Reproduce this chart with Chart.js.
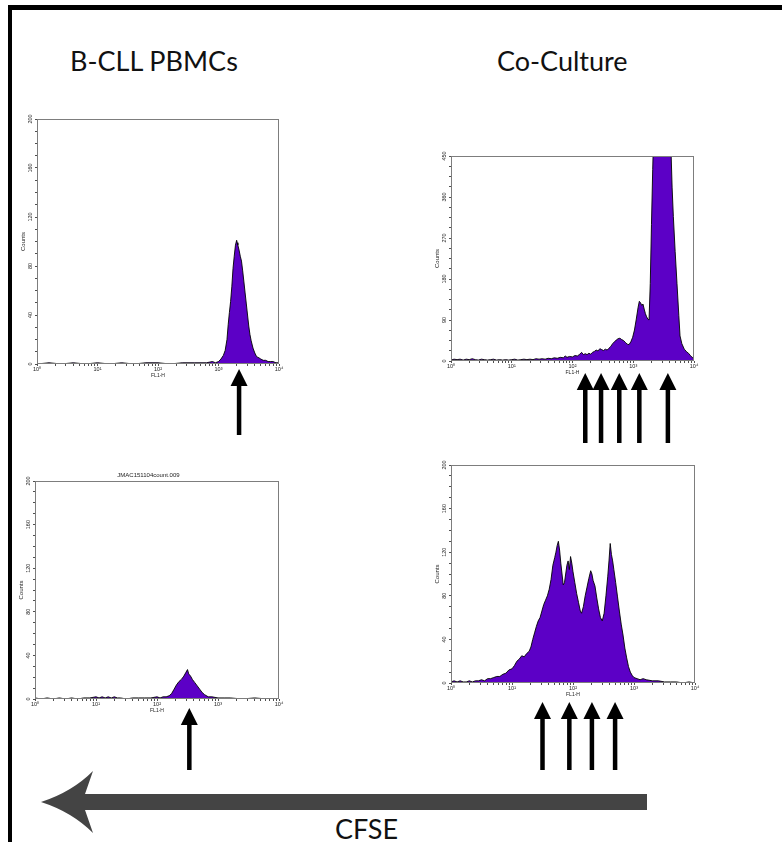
<!DOCTYPE html>
<html>
<head>
<meta charset="utf-8">
<script src="https://cdn.jsdelivr.net/npm/chart.js@4.4.1/dist/chart.umd.min.js"></script>
<style>
  body { margin: 0; background: #fff; }
  #page { position: relative; width: 782px; height: 842px; overflow: hidden; background: #fff; }
  #frame { position: absolute; left: 8px; top: 5px; width: 800px; height: 900px;
           border-top: 5px solid #000; border-left: 4px solid #000; }
  .head { position: absolute; font-family: Lato, "Open Sans", sans-serif; font-size: 27px;
          color: #111; white-space: nowrap; line-height: 1; }
  canvas { position: absolute; }
</style>
</head>
<body>
<div id="page">
  <div id="frame"></div>
  <div class="head" style="left:70px; top:47px">B-CLL PBMCs</div>
  <div class="head" style="left:497px; top:47px">Co-Culture</div>
  <svg width="782" height="842" style="position:absolute;left:0;top:0">
    <path d="M41 802 Q72 792 93 771 L85 794 L647 794 L647 810 L85 810 L93 833 Q72 812 41 802 Z" fill="#444"/>
  </svg>
  <div class="head" style="left:335px; top:815px">CFSE</div>
</div>

<script>
// x positions are log10(FL1-H), y values are event counts
const xTickLabels = ['10⁰', '10¹', '10²', '10³', '10⁴'];
const yLabels200 = [0, 40, 80, 120, 160, 200];
const yLabels450 = [0, 90, 180, 270, 360, 450];

// B-CLL PBMCs, top
const p1Log = [
  0, 0.2, 0.4, 0.6, 0.8, 1.0, 1.2, 1.4, 1.6, 1.8,
  2.0, 2.2, 2.4, 2.6, 2.8, 2.9, 2.95, 3.0, 3.04, 3.08,
  3.11, 3.14, 3.16, 3.18, 3.2, 3.22, 3.24, 3.26, 3.28, 3.3,
  3.31, 3.32, 3.34, 3.36, 3.38, 3.4, 3.42, 3.44, 3.46, 3.48,
  3.5, 3.52, 3.54, 3.57, 3.6, 3.63, 3.67, 3.7, 3.74, 3.78,
  3.82, 3.86, 3.9, 3.95, 4.0
];
const p1Counts = [
  0, 1, 0, 1, 0, 1, 0, 1, 0, 1,
  1, 0, 1, 1, 1, 2, 1, 2, 4, 7,
  11, 20, 32, 42, 51, 63, 78, 88, 97, 101,
  99, 97, 93, 88, 84, 76, 67, 58, 49, 40,
  31, 24, 19, 13, 9, 6, 5, 4, 3, 3,
  2, 2, 2, 1, 1
];
const p1Arrows = [3.34];

// Co-Culture, top
const p2Log = [
  0, 0.05, 0.1, 0.15, 0.2, 0.25, 0.3, 0.35, 0.4, 0.45,
  0.5, 0.55, 0.6, 0.65, 0.7, 0.75, 0.8, 0.85, 0.9, 0.95,
  1.0, 1.05, 1.1, 1.15, 1.2, 1.25, 1.3, 1.35, 1.4, 1.45,
  1.5, 1.55, 1.6, 1.65, 1.7, 1.75, 1.8, 1.85, 1.88, 1.91,
  1.95, 2.0, 2.04, 2.08, 2.12, 2.15, 2.18, 2.21, 2.24, 2.27,
  2.3, 2.33, 2.36, 2.39, 2.42, 2.45, 2.48, 2.51, 2.54, 2.57,
  2.6, 2.63, 2.66, 2.69, 2.72, 2.75, 2.78, 2.81, 2.84, 2.87,
  2.9, 2.93, 2.96, 2.99, 3.02, 3.05, 3.08, 3.1, 3.12, 3.14,
  3.16, 3.18, 3.2, 3.22, 3.24, 3.26, 3.28, 3.3, 3.32, 3.34,
  3.4, 3.5, 3.58, 3.62, 3.64, 3.66, 3.69, 3.72, 3.75, 3.77,
  3.8, 3.84, 3.88, 3.91, 3.94, 3.97, 3.99, 4.0
];
const p2Counts = [
  2, 4, 3, 4, 2, 4, 3, 5, 3, 2,
  4, 3, 2, 3, 4, 2, 3, 2, 3, 2,
  3, 4, 2, 3, 4, 3, 4, 3, 5, 4,
  5, 4, 6, 5, 7, 6, 8, 7, 11, 8,
  10, 9, 12, 11, 15, 19, 14, 16, 14, 17,
  15, 19, 21, 24, 22, 27, 25, 23, 26, 24,
  28, 32, 38, 42, 46, 49, 50, 47, 45, 41,
  37, 36, 42, 52, 68, 92, 118, 131, 128, 122,
  125, 114, 104, 97, 92, 90, 170, 300, 420, 520,
  640, 700, 600, 470, 380, 317, 240, 170, 100, 55,
  38, 26, 20, 17, 12, 8, 6, 50
];
const p2Arrows = [2.21, 2.47, 2.77, 3.1, 3.57];

// B-CLL PBMCs, bottom
const p3Log = [
  0, 0.1, 0.2, 0.3, 0.4, 0.5, 0.6, 0.7, 0.8, 0.9,
  1.0, 1.05, 1.1, 1.15, 1.2, 1.25, 1.3, 1.35, 1.4, 1.5,
  1.6, 1.7, 1.8, 1.9, 2.0, 2.05, 2.1, 2.15, 2.2, 2.24,
  2.28, 2.32, 2.36, 2.4, 2.44, 2.47, 2.5, 2.52, 2.55, 2.58,
  2.62, 2.66, 2.7, 2.74, 2.78, 2.84, 2.9, 3.0, 3.1, 3.2,
  3.4, 3.6, 3.8, 4.0
];
const p3Counts = [
  1, 0, 1, 0, 1, 0, 1, 0, 1, 1,
  2, 1, 2, 1, 2, 1, 2, 1, 1, 0,
  1, 1, 1, 1, 2, 1, 2, 2, 3, 5,
  9, 13, 16, 18, 21, 24, 27, 23, 21, 18,
  15, 12, 9, 6, 4, 2, 2, 1, 1, 1,
  0, 1, 0, 0
];
const p3Arrows = [2.53];

// Co-Culture, bottom
const p4Log = [
  0, 0.05, 0.1, 0.15, 0.2, 0.25, 0.3, 0.35, 0.4, 0.45,
  0.5, 0.55, 0.6, 0.65, 0.7, 0.75, 0.8, 0.85, 0.9, 0.95,
  1.0, 1.04, 1.08, 1.12, 1.16, 1.2, 1.24, 1.28, 1.31, 1.34,
  1.37, 1.4, 1.43, 1.46, 1.49, 1.52, 1.55, 1.58, 1.61, 1.64,
  1.67, 1.7, 1.72, 1.74, 1.76, 1.78, 1.8, 1.82, 1.84, 1.86,
  1.88, 1.9, 1.92, 1.94, 1.96, 1.98, 2.0, 2.03, 2.06, 2.09,
  2.12, 2.14, 2.17, 2.2, 2.23, 2.26, 2.29, 2.31, 2.33, 2.36,
  2.39, 2.42, 2.45, 2.48, 2.51, 2.54, 2.57, 2.59, 2.61, 2.63,
  2.65, 2.67, 2.7, 2.73, 2.76, 2.79, 2.82, 2.85, 2.88, 2.91,
  2.94, 2.97, 3.0, 3.05, 3.1, 3.15, 3.2, 3.3, 3.4, 3.5,
  3.6, 3.7, 3.8, 3.9, 4.0
];
const p4Counts = [
  1, 2, 1, 2, 1, 1, 2, 1, 2, 2,
  3, 2, 4, 4, 5, 6, 6, 8, 9, 12,
  13, 16, 20, 22, 25, 24, 27, 29, 33, 40,
  46, 52, 57, 60, 66, 72, 76, 80, 86, 95,
  108, 115, 120, 126, 130, 122, 110, 100, 90, 92,
  100, 108, 112, 104, 116, 110, 102, 92, 82, 74,
  66, 64, 70, 80, 88, 96, 103, 100, 94, 89,
  78, 68, 60, 57, 64, 80, 98, 112, 128, 118,
  112, 104, 92, 79, 66, 54, 44, 32, 23, 15,
  10, 7, 5, 4, 3, 4, 3, 2, 2, 1,
  1, 1, 0, 1, 0
];
const p4Arrows = [1.5, 1.94, 2.31, 2.69];

const Y_AXIS_W = 17;
const X_AXIS_H = 15;
const TITLE_H = 6 * 1.2 + 2;

// page boxes: canvas rect and where the plot frame should land
const panels = [
  { canvas: { x: 0, y: 100, w: 300, h: 340 }, area: { l: 37, t: 119, r: 279, b: 364 },
    log: p1Log, counts: p1Counts, yMax: 200, yStep: 10, yLabels: yLabels200,
    arrows: p1Arrows, arrowTip: 369, arrowEnd: 435, title: '' },
  { canvas: { x: 400, y: 130, w: 310, h: 320 }, area: { l: 451, t: 156, r: 694, b: 361 },
    log: p2Log, counts: p2Counts, yMax: 450, yStep: 22.5, yLabels: yLabels450,
    arrows: p2Arrows, arrowTip: 373, arrowEnd: 443, title: '' },
  { canvas: { x: 0, y: 455, w: 300, h: 320 }, area: { l: 35, t: 481, r: 279, b: 699 },
    log: p3Log, counts: p3Counts, yMax: 200, yStep: 10, yLabels: yLabels200,
    arrows: p3Arrows, arrowTip: 708, arrowEnd: 770, title: 'JMAC151104count.009' },
  { canvas: { x: 400, y: 445, w: 310, h: 330 }, area: { l: 451, t: 465, r: 695, b: 683 },
    log: p4Log, counts: p4Counts, yMax: 200, yStep: 10, yLabels: yLabels200,
    arrows: p4Arrows, arrowTip: 702, arrowEnd: 770, title: '' }
];

const framePlugin = {
  id: 'frame',
  afterDraw(chart) {
    const { ctx, chartArea: a } = chart;
    ctx.save();
    ctx.strokeStyle = '#7d7d7d';
    ctx.lineWidth = 1;
    ctx.strokeRect(Math.round(a.left) + 0.5, Math.round(a.top) + 0.5,
                   Math.round(a.right - a.left) - 1, Math.round(a.bottom - a.top) - 1);
    ctx.restore();
  }
};

// black arrows under the peaks
const arrowPlugin = {
  id: 'peakArrows',
  afterDraw(chart, args, opts) {
    const ctx = chart.ctx;
    const xs = chart.scales.x;
    ctx.save();
    ctx.fillStyle = '#000';
    opts.values.forEach(v => {
      const x = xs.getPixelForValue(v);
      const headW = 8.5, headH = 17;
      ctx.fillRect(x - 2.25, opts.tip + headH - 1, 4.5, opts.end - opts.tip - headH + 1);
      ctx.beginPath();
      ctx.moveTo(x, opts.tip);
      ctx.lineTo(x - headW, opts.tip + headH);
      ctx.lineTo(x + headW, opts.tip + headH);
      ctx.closePath();
      ctx.fill();
    });
    ctx.restore();
  }
};

const tickFont = { family: 'Liberation Sans', size: 5.5 };

panels.forEach(p => {
  const c = document.createElement('canvas');
  c.width = p.canvas.w;
  c.height = p.canvas.h;
  c.style.left = p.canvas.x + 'px';
  c.style.top = p.canvas.y + 'px';
  document.getElementById('page').appendChild(c);

  const titleH = p.title ? TITLE_H : 0;

  new Chart(c.getContext('2d'), {
    type: 'line',
    data: {
      datasets: [{
        data: p.log.map((x, i) => ({ x: x, y: p.counts[i] })),
        borderColor: '#000',
        borderWidth: 0.9,
        backgroundColor: '#5c00c6',
        fill: 'origin',
        pointRadius: 0,
        tension: 0
      }]
    },
    options: {
      responsive: false,
      animation: false,
      events: [],
      layout: {
        padding: {
          left: p.area.l - p.canvas.x - Y_AXIS_W,
          top: p.area.t - p.canvas.y - titleH,
          right: p.canvas.x + p.canvas.w - p.area.r,
          bottom: p.canvas.y + p.canvas.h - p.area.b - X_AXIS_H
        }
      },
      plugins: {
        legend: { display: false },
        tooltip: { enabled: false },
        title: {
          display: !!p.title,
          text: p.title,
          font: { family: 'Liberation Sans', size: 6, weight: 'normal' },
          color: '#222',
          padding: { top: 0, bottom: 2 }
        },
        peakArrows: {
          values: p.arrows,
          tip: p.arrowTip - p.canvas.y,
          end: p.arrowEnd - p.canvas.y
        }
      },
      scales: {
        x: {
          type: 'linear',
          min: 0,
          max: 4,
          afterFit: s => { s.height = X_AXIS_H; },
          afterBuildTicks: s => {
            const t = [];
            for (let n = 0; n < 4; n++) {
              for (let k = 1; k <= 9; k++) t.push({ value: n + Math.log10(k) });
            }
            t.push({ value: 4 });
            s.ticks = t;
          },
          grid: { drawOnChartArea: false, tickLength: 2, tickColor: '#222', tickWidth: 0.8 },
          border: { display: false },
          ticks: {
            autoSkip: false, maxRotation: 0, minRotation: 0, padding: 0,
            font: tickFont, color: '#222',
            callback: v => Number.isInteger(v) ? xTickLabels[v] : ''
          },
          title: { display: true, text: 'FL1-H', font: { family: 'Liberation Sans', size: 5 }, color: '#222', padding: 0 }
        },
        y: {
          min: 0,
          max: p.yMax,
          afterFit: s => { s.width = Y_AXIS_W; },
          grid: { drawOnChartArea: false, tickLength: 2, tickColor: '#222', tickWidth: 0.8 },
          border: { display: false },
          ticks: {
            stepSize: p.yStep, autoSkip: false, minRotation: 90, maxRotation: 90,
            crossAlign: 'center', padding: 0, font: tickFont, color: '#222',
            callback: v => p.yLabels.includes(v) ? String(v) : ''
          },
          title: { display: true, text: 'Counts', font: { family: 'Liberation Sans', size: 6 }, color: '#222', padding: 0 }
        }
      }
    },
    plugins: [framePlugin, arrowPlugin]
  });
});
</script>
</body>
</html>
